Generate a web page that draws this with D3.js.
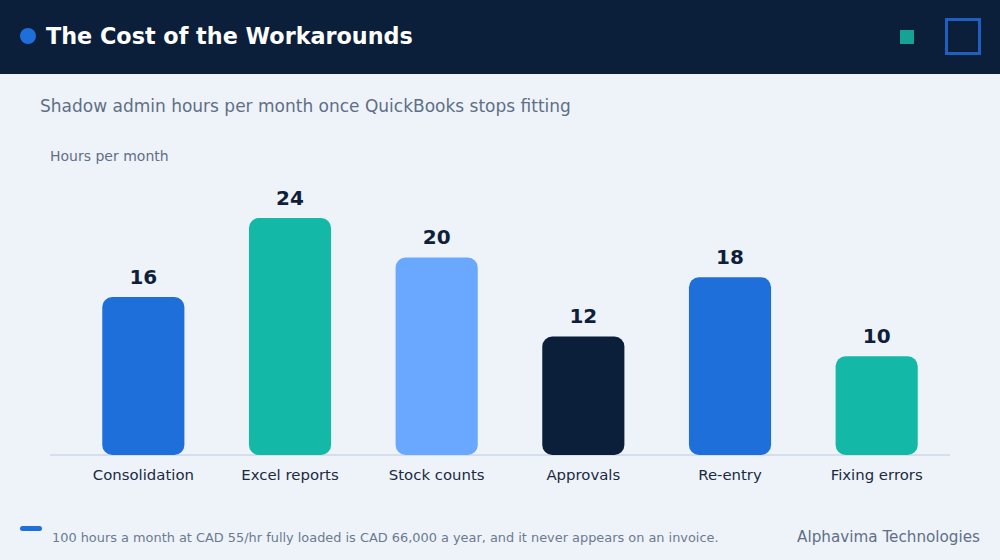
<!DOCTYPE html>
<html>
  <head>
    <meta charset="utf-8">
    <title>The Cost of the Workarounds</title>
    <script src="https://d3js.org/d3.v7.min.js"></script>
    <style>
      body { margin: 0; background: #eef3fa; }
      svg { display: block; font-family: "DejaVu Sans", sans-serif; }
    </style>
  </head>
  <body>
    <svg id="canvas" width="1000" height="560"></svg>
    <script>
      // chart data
      const categories = ["Consolidation", "Excel reports", "Stock counts", "Approvals", "Re-entry", "Fixing errors"];
      const hours = [16, 24, 20, 12, 18, 10];
      const barColors = ["#1f6fdb", "#14b8a6", "#6aa7ff", "#0b1f3a", "#1f6fdb", "#14b8a6"];

      const width = 1000, height = 560;
      const canvas = d3.select("#canvas");

      // background
      canvas.append("rect")
        .attr("width", width).attr("height", height)
        .attr("fill", "#eef3fa");

      // header
      canvas.append("rect")
        .attr("width", width).attr("height", 74)
        .attr("fill", "#0b1f3a");
      canvas.append("circle")
        .attr("cx", 28).attr("cy", 36).attr("r", 8)
        .attr("fill", "#1f6fdb");
      canvas.append("text")
        .attr("x", 46).attr("y", 44)
        .attr("fill", "#ffffff")
        .attr("font-size", 22.3)
        .attr("font-weight", "bold")
        .text("The Cost of the Workarounds");
      canvas.append("rect")
        .attr("x", 900).attr("y", 30).attr("width", 14).attr("height", 14)
        .attr("fill", "#14a394");
      canvas.append("rect")
        .attr("x", 946.5).attr("y", 19.5).attr("width", 33).attr("height", 34)
        .attr("fill", "none")
        .attr("stroke", "#1f5fbf")
        .attr("stroke-width", 3);

      // subtitle + axis title
      canvas.append("text")
        .attr("x", 40).attr("y", 112)
        .attr("fill", "#5f6f85")
        .attr("font-size", 17)
        .text("Shadow admin hours per month once QuickBooks stops fitting");
      canvas.append("text")
        .attr("x", 50).attr("y", 161)
        .attr("fill", "#5f6f85")
        .attr("font-size", 14)
        .text("Hours per month");

      // scales
      const x = d3.scaleBand()
        .domain(categories)
        .range([70, 950]);
      const barWidth = x.bandwidth() * 0.56;
      const y = d3.scaleLinear()
        .domain([0, d3.max(hours) * 1.2])
        .range([455, 170.6]);

      // baseline
      canvas.append("line")
        .attr("x1", 50).attr("x2", 950)
        .attr("y1", 455).attr("y2", 455)
        .attr("stroke", "#d5dfeb")
        .attr("stroke-width", 2);

      const bars = canvas.append("g")
        .selectAll("g")
          .data(categories)
        .enter().append("g");

      bars.append("rect")
        .attr("x", function(d) { return x(d) + (x.bandwidth() - barWidth) / 2; })
        .attr("y", function(d, i) { return y(hours[i]); })
        .attr("width", barWidth)
        .attr("height", function(d, i) { return y(0) - y(hours[i]); })
        .attr("rx", 10)
        .attr("fill", function(d, i) { return barColors[i]; });

      bars.append("text")
        .attr("x", function(d) { return x(d) + x.bandwidth() / 2; })
        .attr("y", function(d, i) { return y(hours[i]) - 13.5; })
        .attr("text-anchor", "middle")
        .attr("fill", "#0f1f3a")
        .attr("font-size", 20)
        .attr("font-weight", "bold")
        .text(function(d, i) { return hours[i]; });

      // category axis
      const xAxis = canvas.append("g")
        .attr("transform", "translate(0,455)")
        .call(d3.axisBottom(x).tickSize(0).tickPadding(14));
      xAxis.select(".domain").remove();
      xAxis.selectAll("text")
        .attr("fill", "#1a2a40")
        .attr("font-size", 14.9)
        .attr("font-family", "DejaVu Sans, sans-serif");

      // footer
      canvas.append("rect")
        .attr("x", 20).attr("y", 526).attr("width", 22).attr("height", 5)
        .attr("rx", 2.5)
        .attr("fill", "#1f6fdb");
      canvas.append("text")
        .attr("x", 52).attr("y", 542)
        .attr("fill", "#6b7a8f")
        .attr("font-size", 12.9)
        .text("100 hours a month at CAD 55/hr fully loaded is CAD 66,000 a year, and it never appears on an invoice.");
      canvas.append("text")
        .attr("x", 980).attr("y", 542)
        .attr("text-anchor", "end")
        .attr("fill", "#5f6f85")
        .attr("font-size", 15.2)
        .text("Alphavima Technologies");
    </script>
  </body>
</html>
